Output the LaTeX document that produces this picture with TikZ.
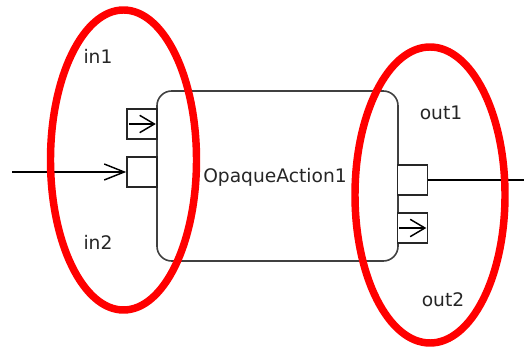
\documentclass[tikz,border=0pt]{standalone}
\usepackage{fontspec}
\setsansfont{DejaVu Sans}
\usetikzlibrary{arrows.meta}

\begin{document}
\begin{tikzpicture}[
  x=0.75pt, y=-0.75pt,
  font=\sffamily\fontsize{14}{16}\selectfont,
  >={Straight Barb[length=15pt,width=12pt]},
  action/.style={draw=black!75, line width=1.2pt, rounded corners=11pt,
                 minimum width=180.75pt, minimum height=127.5pt, inner sep=0pt},
  pinbox/.style={draw=black!85, fill=white, line width=1.2pt,
                 minimum width=22.5pt, minimum height=22.5pt, inner sep=0pt},
  flow/.style={draw=black, line width=1.1pt},
  pinflow/.style={flow, ->, >={Straight Barb[length=11pt,width=13pt]}},
  pinlabel/.style={text=black!85, inner sep=0pt},
  marker/.style={draw=red, line width=5.6pt},
]
% Coordinate system: pixels of the reference, y grows downwards
\useasboundingbox (0,0) rectangle (524,352);

% --- Action ---
\node[action] (action) at (277.5,176) {};
\node[pinlabel] (actionname) at (275,177) {OpaqueAction1};

% --- Pins ---
\node[pinbox] (in1pin)  at (142,124)   {};
\node[pinbox] (in2pin)  at (142,172)   {};
\node[pinbox] (out1pin) at (412.5,180) {};
\node[pinbox] (out2pin) at (412.5,228) {};

% --- Pin direction arrows ---
\draw[pinflow] ([xshift=2pt]in1pin.west) -- ([xshift=-1.5pt]in1pin.east);
\draw[pinflow] ([xshift=2pt]out2pin.west) -- ([xshift=-1.5pt]out2pin.east);

% --- Object flows ---
\coordinate (source) at (12,172);
\coordinate (sink)   at (524,180);
\draw[flow, ->] (source) -- (in2pin.west);
\draw[flow] (out1pin.east) -- (sink);

% --- Pin labels ---
\node[pinlabel] (in1label)  at (98,56)   {in1};
\node[pinlabel] (in2label)  at (98,242)  {in2};
\node[pinlabel] (out1label) at (441,113) {out1};
\node[pinlabel] (out2label) at (443,300) {out2};

% --- Red markers ---
\draw[marker] (123.5,160) ellipse [x radius=73, y radius=150];
\draw[marker] (430,195) ellipse [x radius=75, y radius=148];

\end{tikzpicture}
\end{document}
